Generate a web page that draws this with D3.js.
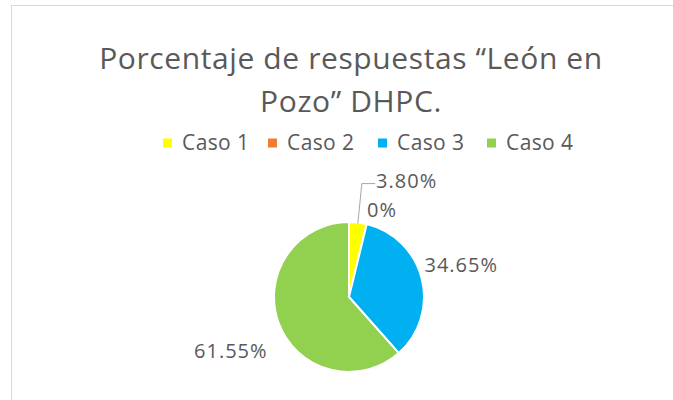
<!DOCTYPE html>
<html>
<head>
<meta charset="utf-8">
<script src="https://d3js.org/d3.v7.min.js"></script>
<style>
  body { margin: 0; background: #fff; }
  text { font-family: "Open Sans", "Noto Sans", sans-serif; fill: #595959; }
</style>
</head>
<body>
<svg class="target" width="673" height="400"></svg>
<script>

// values
const categories = ['Caso 1', 'Caso 2', 'Caso 3', 'Caso 4']
const values = [3.80, 0, 34.65, 61.55]
const labels = ['3.80%', '0%', '34.65%', '61.55%']
const colors = ['#FFFF00', '#ED7D31', '#00B0F0', '#92D050']
const titleLines = ['Porcentaje de respuestas “León en', 'Pozo” DHPC.']

const width = 673, height = 400
const cx = 349, cy = 297, r = 75

const svg = d3.select('.target')

// chart frame
svg.append('rect')
    .attr('x', 11.5).attr('y', 5.5)
    .attr('width', 700).attr('height', 420)
    .attr('fill', 'none')
    .attr('stroke', '#d9d9d9')

// title
svg.append('g')
    .selectAll('text')
    .data(titleLines)
    .join('text')
      .attr('x', 351)
      .attr('y', (d, i) => 69 + i * 43)
      .attr('text-anchor', 'middle')
      .style('font-size', '30px')
      .style('letter-spacing', '0.6px')
      .text(d => d)

// legend
const legendX = [163, 268, 378, 487]
svg.append('g')
    .selectAll('g')
    .data(categories)
    .join('g')
      .attr('transform', (d, i) => `translate(${legendX[i]},143)`)
    .call(g => g.append('rect')
      .attr('x', 0).attr('y', -4.5)
      .attr('width', 9).attr('height', 9)
      .attr('fill', (d, i) => colors[i]))
    .call(g => g.append('text')
      .attr('x', 19)
      .attr('dy', '0.35em')
      .style('font-size', '21px')
      .style('letter-spacing', '0.4px')
      .text(d => d))

// pie
const pie = d3.pie().sort(null).value(d => d)
const arcs = pie(values)
const arc = d3.arc().innerRadius(0).outerRadius(r)

const pieG = svg.append('g').attr('transform', `translate(${cx},${cy})`)

pieG.selectAll('path')
    .data(arcs)
    .join('path')
      .attr('d', arc)
      .attr('fill', (d, i) => colors[i])
      .attr('stroke', '#fff')
      .attr('stroke-width', 2)

// labels: position from the slice mid angle, nudged like Excel best fit
const labelArc = d3.arc().innerRadius(r + 10).outerRadius(r + 10)
const nudge = [[17, -32], [-2, -4], [-7, -12], [-2, 24]]
const anchor = ['start', 'start', 'start', 'end']

pieG.selectAll('text.lbl')
    .data(arcs)
    .join('text')
      .attr('class', 'lbl')
      .attr('x', (d, i) => labelArc.centroid(d)[0] + nudge[i][0])
      .attr('y', (d, i) => labelArc.centroid(d)[1] + nudge[i][1])
      .attr('dy', '0.35em')
      .attr('text-anchor', (d, i) => anchor[i])
      .style('font-size', '20px')
      .style('letter-spacing', '1px')
      .text((d, i) => labels[i])

// leader line for the small slice
const a0 = arcs[0]
const p0 = d3.arc().innerRadius(r - 1).outerRadius(r - 1).centroid(a0)
const lx = labelArc.centroid(a0)[0] + nudge[0][0]
const ly = labelArc.centroid(a0)[1] + nudge[0][1] + 3
pieG.append('polyline')
    .attr('points', [[p0[0], p0[1]], [p0[0] + 4, ly], [lx - 1, ly]].join(' '))
    .attr('fill', 'none')
    .attr('stroke', '#a6a6a6')
    .attr('stroke-width', 1)

</script>
</body>
</html>
